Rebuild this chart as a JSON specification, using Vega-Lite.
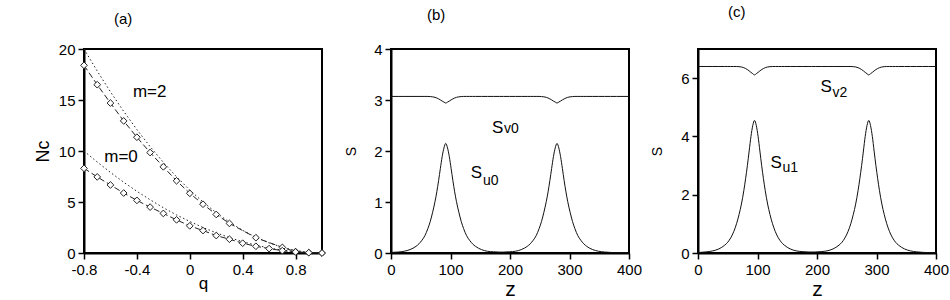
{
 "$schema": "https://vega.github.io/schema/vega-lite/v6.json",
 "autosize": {"type": "none"},
 "padding": {"left": 84, "top": 49, "right": 866, "bottom": 251},
 "background": "white",
 "spacing": 69,
 "bounds": "flush",
 "config": {
  "font": "Liberation Sans",
  "view": {"stroke": "black", "strokeWidth": 2},
  "axis": {"domainColor": "black", "domainWidth": 2, "tickColor": "black", "tickWidth": 1.5, "tickSize": 6, "labelColor": "black", "labelFontSize": 15, "labelFont": "Liberation Sans", "titleColor": "black", "titleFont": "Liberation Sans", "titleFontWeight": "normal", "grid": false, "labelPadding": 3, "labelFlush": false, "labelOverlap": false, "labelExpr": "'' + datum.value"},
  "title": {"fontSize": 15, "fontWeight": "normal", "color": "black", "anchor": "start", "frame": "group", "font": "Liberation Sans", "baseline": "alphabetic"}
 },
 "datasets": {
  "num": [
   {"q": -0.8, "nc": 18.4, "m": "2"}, {"q": -0.7, "nc": 16.5, "m": "2"}, {"q": -0.6, "nc": 14.7, "m": "2"}, {"q": -0.5, "nc": 12.95, "m": "2"}, {"q": -0.4, "nc": 11.35, "m": "2"}, {"q": -0.3, "nc": 9.85, "m": "2"}, {"q": -0.2, "nc": 8.45, "m": "2"}, {"q": -0.1, "nc": 7.08, "m": "2"}, {"q": 0, "nc": 5.85, "m": "2"}, {"q": 0.1, "nc": 4.78, "m": "2"}, {"q": 0.2, "nc": 3.78, "m": "2"}, {"q": 0.3, "nc": 2.9, "m": "2"}, {"q": 0.5, "nc": 1.5, "m": "2"}, {"q": 0.7, "nc": 0.55, "m": "2"}, {"q": 0.8, "nc": 0.14, "m": "2"}, {"q": 0.9, "nc": 0.04, "m": "2"}, {"q": 1.0, "nc": 0, "m": "2"},
   {"q": -0.8, "nc": 8.3, "m": "0"}, {"q": -0.7, "nc": 7.46, "m": "0"}, {"q": -0.6, "nc": 6.67, "m": "0"}, {"q": -0.5, "nc": 5.88, "m": "0"}, {"q": -0.4, "nc": 5.16, "m": "0"}, {"q": -0.3, "nc": 4.5, "m": "0"}, {"q": -0.2, "nc": 3.88, "m": "0"}, {"q": -0.1, "nc": 3.25, "m": "0"}, {"q": 0, "nc": 2.66, "m": "0"}, {"q": 0.1, "nc": 2.2, "m": "0"}, {"q": 0.2, "nc": 1.71, "m": "0"}, {"q": 0.3, "nc": 1.35, "m": "0"}, {"q": 0.4, "nc": 0.96, "m": "0"}, {"q": 0.5, "nc": 0.66, "m": "0"}, {"q": 0.6, "nc": 0.43, "m": "0"}, {"q": 0.7, "nc": 0.23, "m": "0"}, {"q": 0.8, "nc": 0.1, "m": "0"}, {"q": 0.9, "nc": 0.03, "m": "0"}, {"q": 1.0, "nc": 0, "m": "0"}
  ],
  "th": [
   {"q": -0.8, "nc": 20, "m": "2"}, {"q": -0.7, "nc": 17.84, "m": "2"}, {"q": -0.6, "nc": 15.8, "m": "2"}, {"q": -0.5, "nc": 13.89, "m": "2"}, {"q": -0.4, "nc": 12.1, "m": "2"}, {"q": -0.3, "nc": 10.43, "m": "2"}, {"q": -0.2, "nc": 8.89, "m": "2"}, {"q": -0.1, "nc": 7.47, "m": "2"}, {"q": 0, "nc": 6.17, "m": "2"}, {"q": 0.1, "nc": 5.0, "m": "2"}, {"q": 0.2, "nc": 3.95, "m": "2"}, {"q": 0.3, "nc": 3.02, "m": "2"}, {"q": 0.4, "nc": 2.22, "m": "2"}, {"q": 0.5, "nc": 1.54, "m": "2"}, {"q": 0.6, "nc": 0.99, "m": "2"}, {"q": 0.7, "nc": 0.56, "m": "2"}, {"q": 0.8, "nc": 0.25, "m": "2"}, {"q": 0.9, "nc": 0.06, "m": "2"}, {"q": 1.0, "nc": 0, "m": "2"},
   {"q": -0.8, "nc": 10, "m": "0"}, {"q": -0.7, "nc": 8.92, "m": "0"}, {"q": -0.6, "nc": 7.9, "m": "0"}, {"q": -0.5, "nc": 6.94, "m": "0"}, {"q": -0.4, "nc": 6.05, "m": "0"}, {"q": -0.3, "nc": 5.22, "m": "0"}, {"q": -0.2, "nc": 4.44, "m": "0"}, {"q": -0.1, "nc": 3.73, "m": "0"}, {"q": 0, "nc": 3.09, "m": "0"}, {"q": 0.1, "nc": 2.5, "m": "0"}, {"q": 0.2, "nc": 1.98, "m": "0"}, {"q": 0.3, "nc": 1.51, "m": "0"}, {"q": 0.4, "nc": 1.11, "m": "0"}, {"q": 0.5, "nc": 0.77, "m": "0"}, {"q": 0.6, "nc": 0.49, "m": "0"}, {"q": 0.7, "nc": 0.28, "m": "0"}, {"q": 0.8, "nc": 0.12, "m": "0"}, {"q": 0.9, "nc": 0.03, "m": "0"}, {"q": 1.0, "nc": 0, "m": "0"}
  ],
  "labA": [{"q": -0.303, "nc": 15.8, "t": "m=2"}, {"q": -0.52, "nc": 9.4, "t": "m=0"}],
  "sb": [
   {"z": 0, "u": 0.01, "v": 3.07}, {"z": 12, "u": 0.019, "v": 3.07}, {"z": 22, "u": 0.034, "v": 3.07}, {"z": 32, "u": 0.067, "v": 3.07}, {"z": 42, "u": 0.13, "v": 3.07}, {"z": 47, "u": 0.18, "v": 3.07}, {"z": 52, "u": 0.25, "v": 3.07}, {"z": 57, "u": 0.34, "v": 3.07}, {"z": 62, "u": 0.48, "v": 3.07}, {"z": 66, "u": 0.62, "v": 3.067}, {"z": 70, "u": 0.8, "v": 3.062}, {"z": 74, "u": 1.01, "v": 3.052}, {"z": 77, "u": 1.2, "v": 3.039}, {"z": 80, "u": 1.42, "v": 3.022}, {"z": 83, "u": 1.66, "v": 3.002}, {"z": 86, "u": 1.89, "v": 2.979}, {"z": 89, "u": 2.06, "v": 2.959}, {"z": 92, "u": 2.15, "v": 2.94}, {"z": 95, "u": 2.06, "v": 2.959}, {"z": 98, "u": 1.89, "v": 2.979}, {"z": 101, "u": 1.66, "v": 3.002}, {"z": 104, "u": 1.42, "v": 3.022}, {"z": 107, "u": 1.2, "v": 3.039}, {"z": 110, "u": 1.01, "v": 3.052}, {"z": 114, "u": 0.8, "v": 3.062}, {"z": 118, "u": 0.62, "v": 3.067}, {"z": 122, "u": 0.48, "v": 3.07}, {"z": 127, "u": 0.34, "v": 3.07}, {"z": 132, "u": 0.25, "v": 3.07}, {"z": 137, "u": 0.18, "v": 3.07}, {"z": 142, "u": 0.13, "v": 3.07}, {"z": 152, "u": 0.067, "v": 3.07}, {"z": 162, "u": 0.034, "v": 3.07}, {"z": 172, "u": 0.024, "v": 3.07}, {"z": 182, "u": 0.018, "v": 3.07}, {"z": 189, "u": 0.018, "v": 3.07}, {"z": 199, "u": 0.024, "v": 3.07}, {"z": 209, "u": 0.034, "v": 3.07}, {"z": 219, "u": 0.067, "v": 3.07}, {"z": 229, "u": 0.13, "v": 3.07}, {"z": 234, "u": 0.18, "v": 3.07}, {"z": 239, "u": 0.25, "v": 3.07}, {"z": 244, "u": 0.34, "v": 3.07}, {"z": 249, "u": 0.48, "v": 3.07}, {"z": 253, "u": 0.62, "v": 3.067}, {"z": 257, "u": 0.8, "v": 3.062}, {"z": 261, "u": 1.01, "v": 3.052}, {"z": 264, "u": 1.2, "v": 3.039}, {"z": 267, "u": 1.42, "v": 3.022}, {"z": 270, "u": 1.66, "v": 3.002}, {"z": 273, "u": 1.89, "v": 2.979}, {"z": 276, "u": 2.06, "v": 2.959}, {"z": 279, "u": 2.15, "v": 2.94}, {"z": 282, "u": 2.06, "v": 2.959}, {"z": 285, "u": 1.89, "v": 2.979}, {"z": 288, "u": 1.66, "v": 3.002}, {"z": 291, "u": 1.42, "v": 3.022}, {"z": 294, "u": 1.2, "v": 3.039}, {"z": 297, "u": 1.01, "v": 3.052}, {"z": 301, "u": 0.8, "v": 3.062}, {"z": 305, "u": 0.62, "v": 3.067}, {"z": 309, "u": 0.48, "v": 3.07}, {"z": 314, "u": 0.34, "v": 3.07}, {"z": 319, "u": 0.25, "v": 3.07}, {"z": 324, "u": 0.18, "v": 3.07}, {"z": 329, "u": 0.13, "v": 3.07}, {"z": 339, "u": 0.067, "v": 3.07}, {"z": 349, "u": 0.034, "v": 3.07}, {"z": 359, "u": 0.019, "v": 3.07}, {"z": 369, "u": 0.011, "v": 3.07}, {"z": 379, "u": 0.007, "v": 3.07}, {"z": 400, "u": 0.004, "v": 3.07}
  ],
  "sc": [
   {"z": 0, "u": 0.018, "v": 6.4}, {"z": 5, "u": 0.023, "v": 6.4}, {"z": 15, "u": 0.041, "v": 6.4}, {"z": 25, "u": 0.073, "v": 6.4}, {"z": 35, "u": 0.14, "v": 6.4}, {"z": 45, "u": 0.27, "v": 6.4}, {"z": 50, "u": 0.37, "v": 6.4}, {"z": 55, "u": 0.52, "v": 6.4}, {"z": 60, "u": 0.73, "v": 6.4}, {"z": 65, "u": 1.02, "v": 6.4}, {"z": 69, "u": 1.32, "v": 6.394}, {"z": 73, "u": 1.68, "v": 6.383}, {"z": 77, "u": 2.14, "v": 6.359}, {"z": 80, "u": 2.55, "v": 6.33}, {"z": 83, "u": 3.0, "v": 6.293}, {"z": 86, "u": 3.5, "v": 6.249}, {"z": 89, "u": 4.0, "v": 6.197}, {"z": 92, "u": 4.37, "v": 6.153}, {"z": 95, "u": 4.55, "v": 6.11}, {"z": 98, "u": 4.37, "v": 6.153}, {"z": 101, "u": 4.0, "v": 6.197}, {"z": 104, "u": 3.5, "v": 6.249}, {"z": 107, "u": 3.0, "v": 6.293}, {"z": 110, "u": 2.55, "v": 6.33}, {"z": 113, "u": 2.14, "v": 6.359}, {"z": 117, "u": 1.68, "v": 6.383}, {"z": 121, "u": 1.32, "v": 6.394}, {"z": 125, "u": 1.02, "v": 6.4}, {"z": 130, "u": 0.73, "v": 6.4}, {"z": 135, "u": 0.52, "v": 6.4}, {"z": 140, "u": 0.37, "v": 6.4}, {"z": 145, "u": 0.27, "v": 6.4}, {"z": 155, "u": 0.14, "v": 6.4}, {"z": 165, "u": 0.073, "v": 6.4}, {"z": 175, "u": 0.048, "v": 6.4}, {"z": 185, "u": 0.035, "v": 6.4}, {"z": 191, "u": 0.034, "v": 6.4}, {"z": 197, "u": 0.035, "v": 6.4}, {"z": 207, "u": 0.048, "v": 6.4}, {"z": 217, "u": 0.073, "v": 6.4}, {"z": 227, "u": 0.14, "v": 6.4}, {"z": 237, "u": 0.27, "v": 6.4}, {"z": 242, "u": 0.37, "v": 6.4}, {"z": 247, "u": 0.52, "v": 6.4}, {"z": 252, "u": 0.73, "v": 6.4}, {"z": 257, "u": 1.02, "v": 6.4}, {"z": 261, "u": 1.32, "v": 6.394}, {"z": 265, "u": 1.68, "v": 6.383}, {"z": 269, "u": 2.14, "v": 6.359}, {"z": 272, "u": 2.55, "v": 6.33}, {"z": 275, "u": 3.0, "v": 6.293}, {"z": 278, "u": 3.5, "v": 6.249}, {"z": 281, "u": 4.0, "v": 6.197}, {"z": 284, "u": 4.37, "v": 6.153}, {"z": 287, "u": 4.55, "v": 6.11}, {"z": 290, "u": 4.37, "v": 6.153}, {"z": 293, "u": 4.0, "v": 6.197}, {"z": 296, "u": 3.5, "v": 6.249}, {"z": 299, "u": 3.0, "v": 6.293}, {"z": 302, "u": 2.55, "v": 6.33}, {"z": 305, "u": 2.14, "v": 6.359}, {"z": 309, "u": 1.68, "v": 6.383}, {"z": 313, "u": 1.32, "v": 6.394}, {"z": 317, "u": 1.02, "v": 6.4}, {"z": 322, "u": 0.73, "v": 6.4}, {"z": 327, "u": 0.52, "v": 6.4}, {"z": 332, "u": 0.37, "v": 6.4}, {"z": 337, "u": 0.27, "v": 6.4}, {"z": 347, "u": 0.14, "v": 6.4}, {"z": 357, "u": 0.073, "v": 6.4}, {"z": 367, "u": 0.041, "v": 6.4}, {"z": 377, "u": 0.023, "v": 6.4}, {"z": 387, "u": 0.014, "v": 6.4}, {"z": 400, "u": 0.009, "v": 6.4}
  ],
  "bigB": [{"z": 169.6, "s": 2.35, "t": "S"}, {"z": 134, "s": 1.47, "t": "S"}],
  "subB": [{"z": 189.8, "s": 2.35, "t": "v0"}, {"z": 154.5, "s": 1.33, "t": "u0"}],
  "bigC": [{"z": 206, "s": 5.52, "t": "S"}, {"z": 122, "s": 2.93, "t": "S"}],
  "subC": [{"z": 226, "s": 5.34, "t": "v2"}, {"z": 142, "s": 2.79, "t": "u1"}]
 },
 "hconcat": [
  {
   "width": 238, "height": 204,
   "title": {"text": "(a)", "dx": 30, "offset": 15},
   "layer": [
    {"data": {"name": "th"}, "mark": {"type": "line", "strokeDash": [1.5, 2.5], "strokeWidth": 1, "color": "#222"},
     "encoding": {
      "x": {"field": "q", "type": "quantitative", "scale": {"domain": [-0.8, 1.0], "nice": false}, "axis": {"values": [-0.8, -0.4, 0, 0.4, 0.8], "title": "q", "titleFontSize": 17, "titlePadding": -2}},
      "y": {"field": "nc", "type": "quantitative", "scale": {"domain": [0, 20], "nice": false}, "axis": {"values": [0, 5, 10, 15, 20], "title": "Nc", "titleFontSize": 18, "titlePadding": 6}},
      "detail": {"field": "m"}}},
    {"data": {"name": "num"}, "mark": {"type": "line", "strokeDash": [6, 3], "strokeWidth": 1, "color": "#222"},
     "encoding": {"x": {"field": "q", "type": "quantitative", "title": "q"}, "y": {"field": "nc", "type": "quantitative", "title": "Nc"}, "detail": {"field": "m"}}},
    {"data": {"name": "num"}, "mark": {"type": "point", "shape": "diamond", "filled": true, "fill": "white", "stroke": "#222", "strokeWidth": 1, "size": 45, "opacity": 1},
     "encoding": {"x": {"field": "q", "type": "quantitative", "title": "q"}, "y": {"field": "nc", "type": "quantitative", "title": "Nc"}}},
    {"data": {"name": "labA"}, "mark": {"type": "text", "fontSize": 17, "color": "black", "align": "center", "baseline": "middle"},
     "encoding": {"x": {"field": "q", "type": "quantitative", "title": "q"}, "y": {"field": "nc", "type": "quantitative", "title": "Nc"}, "text": {"field": "t"}}}
   ]
  },
  {
   "width": 238, "height": 204,
   "title": {"text": "(b)", "dx": 36, "offset": 19},
   "layer": [
    {"data": {"name": "sb"}, "mark": {"type": "line", "strokeWidth": 1, "color": "#111", "interpolate": "monotone"},
     "encoding": {
      "x": {"field": "z", "type": "quantitative", "scale": {"domain": [0, 400], "nice": false}, "axis": {"values": [0, 100, 200, 300, 400], "title": "z", "titleFontSize": 21, "titlePadding": 1}},
      "y": {"field": "u", "type": "quantitative", "scale": {"domain": [0, 4], "nice": false}, "axis": {"values": [0, 1, 2, 3, 4], "title": "S", "titleFontSize": 14, "titlePadding": 15}}}},
    {"data": {"name": "sb"}, "mark": {"type": "line", "strokeWidth": 1, "color": "#111", "interpolate": "monotone"},
     "encoding": {"x": {"field": "z", "type": "quantitative", "title": "z"}, "y": {"field": "v", "type": "quantitative", "title": "S"}}},
    {"data": {"name": "bigB"}, "mark": {"type": "text", "fontSize": 17, "color": "black", "align": "left", "baseline": "alphabetic"},
     "encoding": {"x": {"field": "z", "type": "quantitative", "title": "z"}, "y": {"field": "s", "type": "quantitative", "title": "S"}, "text": {"field": "t"}}},
    {"data": {"name": "subB"}, "mark": {"type": "text", "fontSize": 14, "color": "black", "align": "left", "baseline": "alphabetic"},
     "encoding": {"x": {"field": "z", "type": "quantitative", "title": "z"}, "y": {"field": "s", "type": "quantitative", "title": "S"}, "text": {"field": "t"}}}
   ]
  },
  {
   "width": 238, "height": 204,
   "title": {"text": "(c)", "dx": 30, "offset": 29},
   "layer": [
    {"data": {"name": "sc"}, "mark": {"type": "line", "strokeWidth": 1, "color": "#111", "interpolate": "monotone"},
     "encoding": {
      "x": {"field": "z", "type": "quantitative", "scale": {"domain": [0, 400], "nice": false}, "axis": {"values": [0, 100, 200, 300, 400], "title": "z", "titleFontSize": 21, "titlePadding": 1}},
      "y": {"field": "u", "type": "quantitative", "scale": {"domain": [0, 7], "nice": false}, "axis": {"values": [0, 2, 4, 6], "title": "S", "titleFontSize": 14, "titlePadding": 16}}}},
    {"data": {"name": "sc"}, "mark": {"type": "line", "strokeWidth": 1, "color": "#111", "interpolate": "monotone"},
     "encoding": {"x": {"field": "z", "type": "quantitative", "title": "z"}, "y": {"field": "v", "type": "quantitative", "title": "S"}}},
    {"data": {"name": "bigC"}, "mark": {"type": "text", "fontSize": 17, "color": "black", "align": "left", "baseline": "alphabetic"},
     "encoding": {"x": {"field": "z", "type": "quantitative", "title": "z"}, "y": {"field": "s", "type": "quantitative", "title": "S"}, "text": {"field": "t"}}},
    {"data": {"name": "subC"}, "mark": {"type": "text", "fontSize": 14, "color": "black", "align": "left", "baseline": "alphabetic"},
     "encoding": {"x": {"field": "z", "type": "quantitative", "title": "z"}, "y": {"field": "s", "type": "quantitative", "title": "S"}, "text": {"field": "t"}}}
   ]
  }
 ]
}
